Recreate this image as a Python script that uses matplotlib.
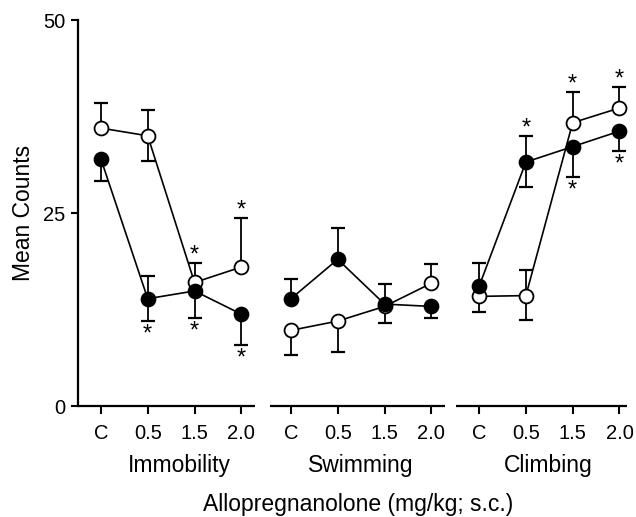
import matplotlib.pyplot as plt
import numpy as np

plt.rcParams['font.family'] = ['Liberation Sans', 'DejaVu Sans']

# tests and doses
tests = ["Immobility", "Swimming", "Climbing"]
doses = ["C", "0.5", "1.5", "2.0"]
offsets = [0.0, 4.06, 8.08]   # where each test block starts on the x axis

# filled circles
filled_mean = [[32.0, 13.9, 14.9, 11.9],
               [13.9, 19.0, 13.2, 12.9],
               [15.5, 31.6, 33.6, 35.6]]
filled_lo = [[2.9, 2.9, 3.5, 4.0],
             [0, 0, 0, 1.5],
             [0, 3.2, 3.9, 2.6]]
filled_hi = [[0, 3.0, 0, 0],
             [2.6, 4.0, 2.6, 0],
             [3.0, 3.4, 0, 0]]
# +1 star above the bar, -1 star below
filled_star = [[0, -1, -1, -1],
               [0, 0, 0, 0],
               [0, 1, -1, -1]]

# open circles
open_mean = [[36.0, 35.0, 16.0, 18.0],
             [9.8, 11.0, 12.9, 15.9],
             [14.2, 14.3, 36.7, 38.6]]
open_lo = [[0, 3.2, 0, 0],
           [3.2, 4.0, 2.1, 0],
           [2.0, 3.2, 0, 0]]
open_hi = [[3.2, 3.3, 2.5, 6.3],
           [0, 0, 0, 2.5],
           [0, 3.3, 4.0, 2.7]]
open_star = [[0, 0, 1, 1],
             [0, 0, 0, 0],
             [0, 0, 1, 1]]

fig = plt.figure(figsize=(6.36, 5.17), dpi=100)
ax = fig.add_axes([0.1226, 0.2147, 0.8632, 0.7466])


def draw(means, lo, hi, stars, face, z):
    for g in range(3):
        x = offsets[g] + np.arange(4)
        y = np.array(means[g])
        l = np.array(lo[g])
        h = np.array(hi[g])
        ax.plot(x, y, '-', color='k', lw=1.2, zorder=2)
        ax.errorbar(x, y, yerr=[l, h], fmt='none', ecolor='k', elinewidth=1.3,
                    capsize=5, capthick=1.6, zorder=2)
        ax.plot(x, y, 'o', ms=10, mfc=face, mec='k', mew=1.3, ls='none', zorder=z)
        for i in range(4):
            s = stars[g][i]
            if s > 0:
                ax.annotate('*', xy=(x[i], y[i] + h[i]), xytext=(0, 1),
                            textcoords='offset points', ha='center', va='baseline',
                            fontsize=17)
            elif s < 0:
                ax.annotate('*', xy=(x[i], y[i] - l[i]), xytext=(0, -14),
                            textcoords='offset points', ha='center', va='baseline',
                            fontsize=17)


draw(open_mean, open_lo, open_hi, open_star, 'white', 3)
draw(filled_mean, filled_lo, filled_hi, filled_star, 'black', 4)

ax.set_ylim(0, 50)
ax.set_xlim(-0.49, 11.24)
ax.set_yticks([0, 25, 50])
ax.set_xticks([o + i for o in offsets for i in range(4)])
ax.set_xticklabels(doses * 3)
ax.tick_params(axis='y', direction='out', length=5, width=1.5, labelsize=14.5, pad=4)
ax.tick_params(axis='x', direction='out', length=6, width=1.5, labelsize=14.5, pad=7)
for side in ['top', 'right', 'bottom']:
    ax.spines[side].set_visible(False)
ax.spines['left'].set_linewidth(1.6)

# broken x axis line, one piece per test
for a, b in [(-0.49, 3.29), (3.61, 7.35), (7.59, 11.24)]:
    ax.plot([a, b], [0, 0], color='k', lw=1.6, clip_on=False, solid_capstyle='butt')

label_x = [1.67, 5.56, 9.56]
for t, lx in zip(tests, label_x):
    ax.text(lx, -0.170, t, transform=ax.get_xaxis_transform(), ha='center',
            va='baseline', fontsize=16.5)

fig.text(0.563, 0.0116, "Allopregnanolone (mg/kg; s.c.)", ha='center',
         va='baseline', fontsize=16.5)
ax.set_ylabel("Mean Counts", fontsize=16.5, labelpad=6)

fig.savefig("out.png", dpi=100)
